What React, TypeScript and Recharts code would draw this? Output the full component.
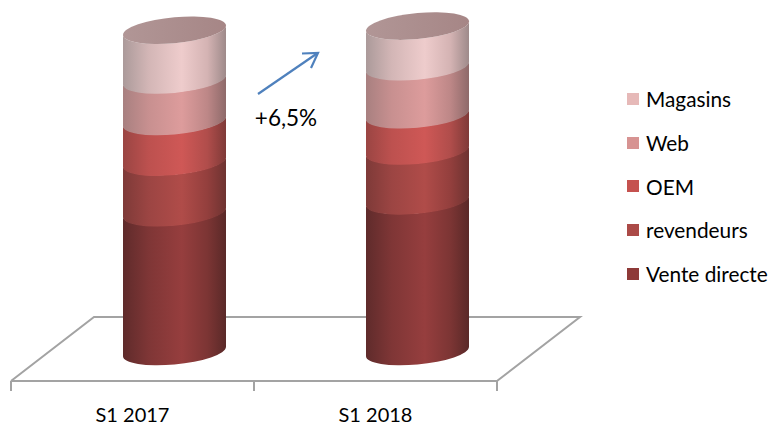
import { BarChart, Bar, XAxis, YAxis, Legend } from 'recharts'

const periods = ['S1 2017', 'S1 2018']
const venteDirecte = [43.6, 47.3]
const revendeurs = [15.8, 15.6]
const oem = [12.7, 11.3]
const web = [13.0, 15.0]
const magasins = [15.3, 12.5]

const data = periods.map((period, i) => ({
  period,
  venteDirecte: venteDirecte[i],
  revendeurs: revendeurs[i],
  oem: oem[i],
  web: web[i],
  magasins: magasins[i],
}))

const FONT = 'Lato, "Open Sans", sans-serif'
const AXIS_GREY = '#a3a3a3'

// bottom-to-top stacking order; stops run across the column, left to right
const STOP_OFFSETS = [0, 0.25, 0.57, 0.82, 1]
const SERIES = [
  { key: 'venteDirecte', name: 'Vente directe', color: '#8e3a38', stops: ['#5f2b2b', '#7f3636', '#963e3e', '#7c3534', '#5a2928'] },
  { key: 'revendeurs', name: 'revendeurs', color: '#ab4a47', stops: ['#7e3a38', '#9c4543', '#b04c49', '#933f3d', '#6e3331'] },
  { key: 'oem', name: 'OEM', color: '#c5524f', stops: ['#9a4543', '#bd514f', '#cf5856', '#b04d4b', '#7f3a38'] },
  { key: 'web', name: 'Web', color: '#d79392', stops: ['#a88080', '#c89090', '#dd9c9c', '#bd8787', '#8e6a6a'] },
  { key: 'magasins', name: 'Magasins', color: '#e6b9b8', stops: ['#ab9a9a', '#d3b6b6', '#eecccc', '#d4b3b3', '#9e8a8a'] },
]

const WIDTH = 771
const HEIGHT = 425
const PLOT_LEFT = 11
const PLOT_RIGHT = 497
const PLOT_BOTTOM = 381
const LEGEND_WIDTH = 144
const XAXIS_HEIGHT = 30

// fake 3D: columns sit in the middle of the floor, the floor's back edge further away
const COLUMN_SHIFT_X = 42
const COLUMN_SHIFT_Y = -29.5
const FLOOR_DEPTH_X = 83
const FLOOR_DEPTH_Y = -64
const ELLIPSE_RY = 13
const TILT_DEG = -5.2
// upper segments overlap the one below so no hairline shows at the joins
const SEAM_OVERLAP = 0.7

const CylinderSegment = (props: any) => {
  const { x, y, width, height, seriesKey, capped } = props
  const r = width / 2
  const cx = x + r + COLUMN_SHIFT_X
  const top = y + COLUMN_SHIFT_Y
  const bottom = top + height + (seriesKey === SERIES[0].key ? 0 : SEAM_OVERLAP)
  const body = `M${-r},${top} A${r},${ELLIPSE_RY} 0 0 0 ${r},${top} L${r},${bottom} A${r},${ELLIPSE_RY} 0 0 1 ${-r},${bottom} Z`
  return (
    <g transform={`translate(${cx},0) translate(0,${top}) skewY(${TILT_DEG}) translate(0,${-top})`}>
      <path d={body} fill={`url(#cyl-${seriesKey})`} />
      {capped && <ellipse cx={0} cy={top} rx={r} ry={ELLIPSE_RY} fill="url(#cyl-cap)" />}
    </g>
  )
}

const Floor = () => {
  const mid = (PLOT_LEFT + PLOT_RIGHT) / 2
  const points = [
    [PLOT_LEFT, PLOT_BOTTOM],
    [PLOT_LEFT + FLOOR_DEPTH_X, PLOT_BOTTOM + FLOOR_DEPTH_Y],
    [PLOT_RIGHT + FLOOR_DEPTH_X, PLOT_BOTTOM + FLOOR_DEPTH_Y],
    [PLOT_RIGHT, PLOT_BOTTOM],
  ]
  return (
    <g>
      <polyline points={points.map((p) => p.join(',')).join(' ')} fill="none" stroke={AXIS_GREY} strokeWidth={2} />
      {[PLOT_LEFT, mid, PLOT_RIGHT].map((tx) => (
        <line key={tx} x1={tx} x2={tx} y1={PLOT_BOTTOM} y2={PLOT_BOTTOM + 10} stroke={AXIS_GREY} strokeWidth={2} />
      ))}
    </g>
  )
}

const GrowthArrow = () => (
  <g>
    <g fill="none" stroke="#4f81bd" strokeWidth={2.2}>
      <line x1={258} y1={94} x2={317} y2={53.5} />
      <polyline points="302,53.5 318,53 311,68" />
    </g>
    <text x={286} y={125.5} textAnchor="middle" fontFamily={FONT} fontSize={22.5} fill="#000">
      +6,5%
    </text>
  </g>
)

const LegendList = ({ payload }: any) => {
  const rows = [...(payload ?? [])].reverse()
  return (
    <div style={{ fontFamily: FONT, fontSize: 20.8, color: '#000' }}>
      {rows.map((item: any) => (
        <div key={item.value} style={{ display: 'flex', alignItems: 'center', height: 43.7, whiteSpace: 'nowrap' }}>
          <span style={{ width: 12, height: 12, background: item.color, marginRight: 7, flex: 'none' }} />
          {item.value}
        </div>
      ))}
    </div>
  )
}

export default function App() {
  return (
    <div style={{ position: 'absolute', left: 0, top: 0, width: WIDTH, height: HEIGHT, background: '#fff' }}>
      <BarChart
        width={WIDTH}
        height={HEIGHT}
        data={data}
        margin={{
          top: 29,
          right: WIDTH - PLOT_RIGHT - LEGEND_WIDTH,
          bottom: HEIGHT - PLOT_BOTTOM - XAXIS_HEIGHT,
          left: PLOT_LEFT,
        }}
      >
        <defs>
          {SERIES.map((s) => (
            <linearGradient key={s.key} id={`cyl-${s.key}`} x1="0" x2="1" y1="0" y2="0">
              {s.stops.map((c, i) => (
                <stop key={i} offset={STOP_OFFSETS[i]} stopColor={c} />
              ))}
            </linearGradient>
          ))}
          <linearGradient id="cyl-cap" x1="0" x2="1" y1="0" y2="0">
            <stop offset="0" stopColor="#b19696" />
            <stop offset="1" stopColor="#a68686" />
          </linearGradient>
        </defs>
        <Floor />
        <XAxis
          dataKey="period"
          height={XAXIS_HEIGHT}
          axisLine={{ stroke: AXIS_GREY, strokeWidth: 2 }}
          tickLine={false}
          tickMargin={21}
          tick={{ fill: '#000', fontSize: 20, fontFamily: FONT }}
        />
        <YAxis hide domain={[0, 110]} />
        {SERIES.map((s, i) => (
          <Bar
            key={s.key}
            dataKey={s.key}
            name={s.name}
            stackId="total"
            fill={s.color}
            barSize={103}
            isAnimationActive={false}
            shape={(p: any) => <CylinderSegment {...p} seriesKey={s.key} capped={i === SERIES.length - 1} />}
          />
        ))}
        <GrowthArrow />
        <Legend
          layout="vertical"
          verticalAlign="top"
          align="right"
          itemSorter={null}
          content={<LegendList />}
          wrapperStyle={{ left: 627, right: 'auto', top: 77, width: LEGEND_WIDTH }}
        />
      </BarChart>
    </div>
  )
}
